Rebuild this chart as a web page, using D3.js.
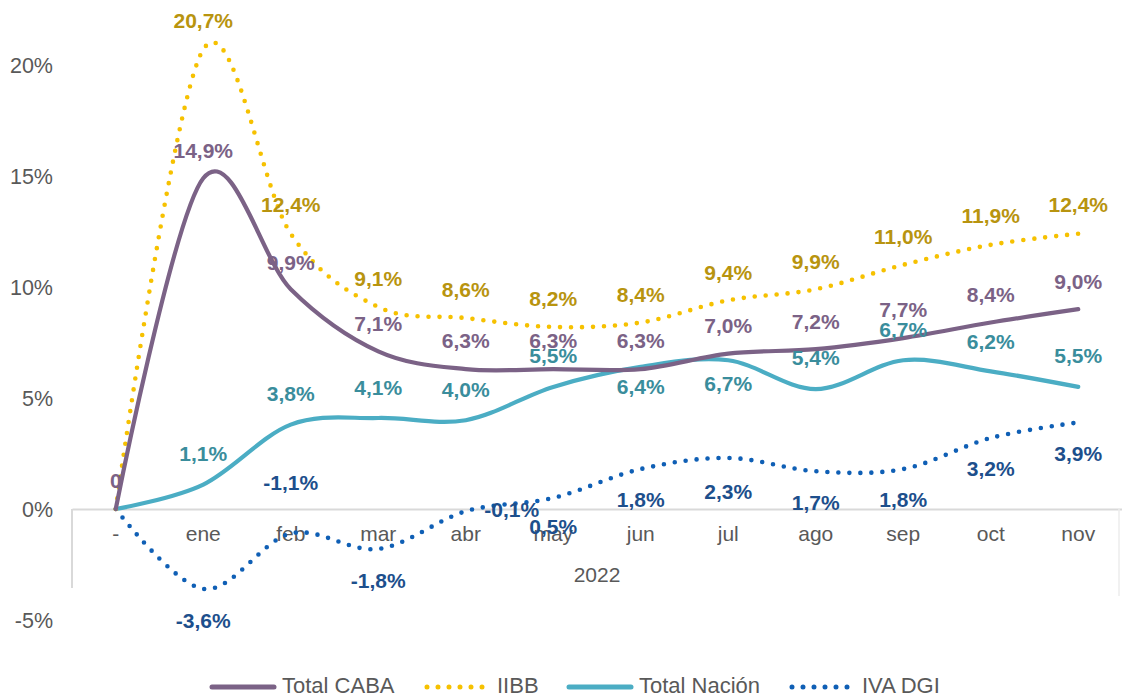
<!DOCTYPE html>
<html><head><meta charset="utf-8">
<script src="https://cdn.jsdelivr.net/npm/d3@7"></script>
<style>
html,body{margin:0;padding:0;background:#fff;}
svg{display:block;font-family:"Liberation Sans",Arial,sans-serif;}
</style></head>
<body><svg id="c" width="1122" height="697"></svg>
<script>
const categories = ["-", "ene", "feb", "mar", "abr", "may", "jun", "jul", "ago", "sep", "oct", "nov"];
const yearLabel = "2022";
const yTicks = [-5, 0, 5, 10, 15, 20];

const totalCABA   = [0, 14.9, 9.9, 7.1, 6.3, 6.3, 6.3, 7.0, 7.2, 7.7, 8.4, 9.0];
const iibb        = [0, 20.7, 12.4, 9.1, 8.6, 8.2, 8.4, 9.4, 9.9, 11.0, 11.9, 12.4];
const totalNacion = [0, 1.1, 3.8, 4.1, 4.0, 5.5, 6.4, 6.7, 5.4, 6.7, 6.2, 5.5];
const ivaDGI      = [0, -3.6, -1.1, -1.8, -0.1, 0.5, 1.8, 2.3, 1.7, 1.8, 3.2, 3.9];

const seriesNames = ["Total CABA", "IIBB", "Total Nación", "IVA DGI"];

// label placement (styling): vertical offset in px of each data label from its point, and x shift
const labelDy = {
  "Total CABA":   [-28, -28, -27, -28, -28, -28, -28, -28, -28, -28, -28, -28],
  "IIBB":         [null, -29, -29, -28, -28, -28, -28, -28, -28, -28, -29, -29],
  "Total Nación": [null, -31, -31, -30, -31, -31, 20, 23, -31, -31, -30, -31],
  "IVA DGI":      [null, 32, -51, 32, -2, 29, 31, 34, 31, 31, 31, 31]
};
const labelDx = {
  "IVA DGI": [0, 0, 0, 0, 46, 0, 0, 0, 0, 0, 0, 0]
};

const W = 1122, H = 697;
const svg = d3.select("#c");

const x = d3.scaleBand().domain(categories).range([72, 1122]);
const y = d3.scaleLinear().domain([-5, 20]).range([620, 65]);
const cx = c => x(c) + x.bandwidth() / 2;
const fmt = v => v.toFixed(1).replace(".", ",") + "%";

// y tick labels
svg.append("g").selectAll("text").data(yTicks).join("text")
  .attr("x", 53).attr("y", d => y(d)).attr("dy", "0.35em")
  .attr("text-anchor", "end").attr("font-size", 21.5).attr("fill", "#595959")
  .text(d => d + "%");

// x axis
const gx = svg.append("g").attr("transform", `translate(0,${y(0)})`);
gx.call(d3.axisBottom(x).tickSize(0).tickPadding(17));
gx.select(".domain").attr("stroke", "#d9d9d9").attr("stroke-width", 2);
gx.selectAll(".tick text").attr("font-size", 21).attr("fill", "#595959")
  .attr("font-family", "Liberation Sans, Arial, sans-serif");
svg.append("line").attr("x1", 72).attr("x2", 72).attr("y1", y(0)).attr("y2", 588)
  .attr("stroke", "#d9d9d9").attr("stroke-width", 2);
svg.append("line").attr("x1", 1119).attr("x2", 1119).attr("y1", y(0)).attr("y2", 596)
  .attr("stroke", "#ececec").attr("stroke-width", 1.5);
svg.append("text").attr("x", (72 + 1122) / 2).attr("y", 582)
  .attr("text-anchor", "middle").attr("font-size", 21).attr("fill", "#595959").text(yearLabel);

const styles = {
  "Total CABA":   {data: totalCABA, color: "#7b6286", label: "#7b6286", dash: null},
  "IIBB":         {data: iibb, color: "#f6c100", label: "#b8940f", dash: "0 11"},
  "Total Nación": {data: totalNacion, color: "#4badc4", label: "#3a8d9c", dash: null},
  "IVA DGI":      {data: ivaDGI, color: "#0f5fb5", label: "#1d4f8c", dash: "0 11"}
};

const line = d3.line().x((d, i) => cx(categories[i])).y(d => y(d))
  .curve(d3.curveCardinal.tension(0));

const drawOrder = ["IVA DGI", "Total Nación", "IIBB", "Total CABA"];
drawOrder.forEach(name => {
  const s = styles[name];
  const p = svg.append("path").datum(s.data).attr("d", line)
    .attr("fill", "none").attr("stroke", s.color).attr("stroke-width", 4.2)
    .attr("stroke-linecap", "round").attr("stroke-linejoin", "round");
  if (s.dash) p.attr("stroke-dasharray", s.dash).attr("stroke-width", 4.6);
});

// labels
seriesNames.forEach(name => {
  const s = styles[name];
  const g = svg.append("g");
  s.data.forEach((v, i) => {
    const dy = labelDy[name][i];
    if (dy === null) return;
    const dx = (labelDx[name] || [])[i] || 0;
    const txt = i === 0 ? "0" : fmt(v);
    g.append("text").attr("x", cx(categories[i]) + dx).attr("y", y(v) + dy).attr("dy", "0.35em")
      .attr("text-anchor", "middle").attr("font-size", 21).attr("font-weight", "bold")
      .attr("fill", s.label).text(txt);
  });
});

// legend
const legendItems = [
  {name: "Total CABA", x: 212},
  {name: "IIBB", x: 427},
  {name: "Total Nación", x: 569},
  {name: "IVA DGI", x: 792}
];
const lg = svg.append("g");
legendItems.forEach(it => {
  const s = styles[it.name];
  const l = lg.append("line").attr("x1", it.x).attr("x2", it.x + 62).attr("y1", 687).attr("y2", 687)
    .attr("stroke", s.color).attr("stroke-width", 5).attr("stroke-linecap", "round");
  if (s.dash) l.attr("stroke-dasharray", s.dash);
  lg.append("text").attr("x", it.x + 70).attr("y", 685).attr("dy", "0.35em")
    .attr("font-size", 22).attr("fill", "#595959").text(it.name);
});
</script></body></html>
